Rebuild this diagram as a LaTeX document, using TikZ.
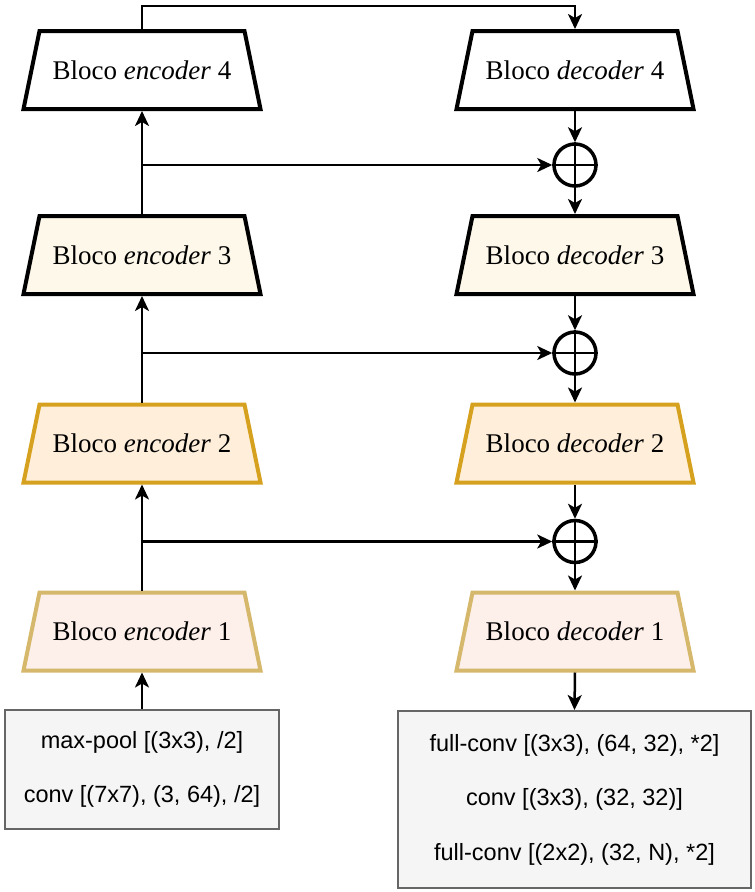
\documentclass[tikz,border=0pt]{standalone}
\usepackage{fontspec}
\setmainfont{Liberation Serif}
\setsansfont{Liberation Sans}
\usetikzlibrary{arrows.meta,backgrounds}
\definecolor{encthree}{HTML}{FEF8EA}
\definecolor{enctwofill}{HTML}{FFEFDA}
\definecolor{enctwoline}{HTML}{D6A11E}
\definecolor{enconefill}{HTML}{FDEFEA}
\definecolor{enconeline}{HTML}{D5B86B}
\definecolor{boxfill}{HTML}{F5F5F5}
\definecolor{boxline}{HTML}{666666}
\tikzset{
  blockshape/.style={rectangle, minimum width=237pt, minimum height=78pt,
    inner sep=0pt, outer sep=2pt, font=\fontsize{27}{32}\selectfont},
  trap/.style={line width=4pt, line join=miter},
  plusnode/.style={circle, draw=black, line width=3.5pt, minimum size=42pt, inner sep=0pt},
  layerbox/.style={rectangle, draw=boxline, fill=boxfill, line width=2pt,
    inner sep=0pt, align=center, font=\sffamily\fontsize{23.5}{54.5}\selectfont},
  conn/.style={line width=2.5pt, -{Stealth[length=15pt, width=14pt, inset=4pt]}},
}
\begin{document}
\begin{tikzpicture}[x=1pt, y=-1pt]
\useasboundingbox (0,0) rectangle (755,892);
% encoder column
\node[blockshape] (enc4) at (142,70)    {Bloco \textit{encoder} 4};
\node[blockshape] (enc3) at (142,255)   {Bloco \textit{encoder} 3};
\node[blockshape] (enc2) at (142,443.5) {Bloco \textit{encoder} 2};
\node[blockshape] (enc1) at (142,631.5) {Bloco \textit{encoder} 1};
% decoder column
\node[blockshape] (dec4) at (575,70)    {Bloco \textit{decoder} 4};
\node[blockshape] (dec3) at (575,255)   {Bloco \textit{decoder} 3};
\node[blockshape] (dec2) at (575,443.5) {Bloco \textit{decoder} 2};
\node[blockshape] (dec1) at (575,631.5) {Bloco \textit{decoder} 1};
\begin{scope}[on background layer]
\foreach \n/\fc/\dc in {enc4/white/black, dec4/white/black,
    enc3/encthree/black, dec3/encthree/black,
    enc2/enctwofill/enctwoline, dec2/enctwofill/enctwoline,
    enc1/enconefill/enconeline, dec1/enconefill/enconeline}{
  \filldraw[trap, fill=\fc, draw=\dc]
    ([xshift=2pt,yshift=2pt]\n.south west) -- ([xshift=-2pt,yshift=2pt]\n.south east)
    -- ([xshift=-18pt,yshift=-2pt]\n.north east) -- ([xshift=18pt,yshift=-2pt]\n.north west) -- cycle;
}
\end{scope}
% sum nodes
\node[plusnode] (p3) at (575,165)   {};
\node[plusnode] (p2) at (575,353)   {};
\node[plusnode] (p1) at (575,541.5) {};
\foreach \p in {p1,p2,p3}{
  \draw[line width=2.5pt] (\p.north) -- (\p.south);
  \draw[line width=2.5pt] (\p.west) -- (\p.east);
}
% boxes
\node[layerbox, minimum width=274pt, minimum height=119pt] (inbox) at (142,769.5)
  {max-pool [(3x3), /2]\\conv [(7x7), (3, 64), /2]};
\node[layerbox, minimum width=353pt, minimum height=177pt] (outbox) at (574.5,799.5)
  {full-conv [(3x3), (64, 32), *2]\\conv [(3x3), (32, 32)]\\full-conv [(2x2), (32, N), *2]};
% encoder connectors
\draw[conn] (inbox.north) -- (enc1.south);
\draw[conn] (enc1.north) -- (enc2.south);
\draw[conn] (enc2.north) -- (enc3.south);
\draw[conn] (enc3.north) -- (enc4.south);
% skip connections
\draw[conn] (enc3.north |- p3) -- (p3.west);
\draw[conn] (enc2.north |- p2) -- (p2.west);
\draw[conn] (enc1.north |- p1) -- (p1.west);
% top bridge
\coordinate (topc) at (575,6);
\draw[conn] (enc4.north) |- (topc) -- (dec4.north);
% decoder connectors
\draw[conn] (dec4.south) -- (p3.north);
\draw[conn] (p3.south) -- (dec3.north);
\draw[conn] (dec3.south) -- (p2.north);
\draw[conn] (p2.south) -- (dec2.north);
\draw[conn] (dec2.south) -- (p1.north);
\draw[conn] (p1.south) -- (dec1.north);
\draw[conn] (dec1.south) -- (outbox.north);
\end{tikzpicture}
\end{document}
